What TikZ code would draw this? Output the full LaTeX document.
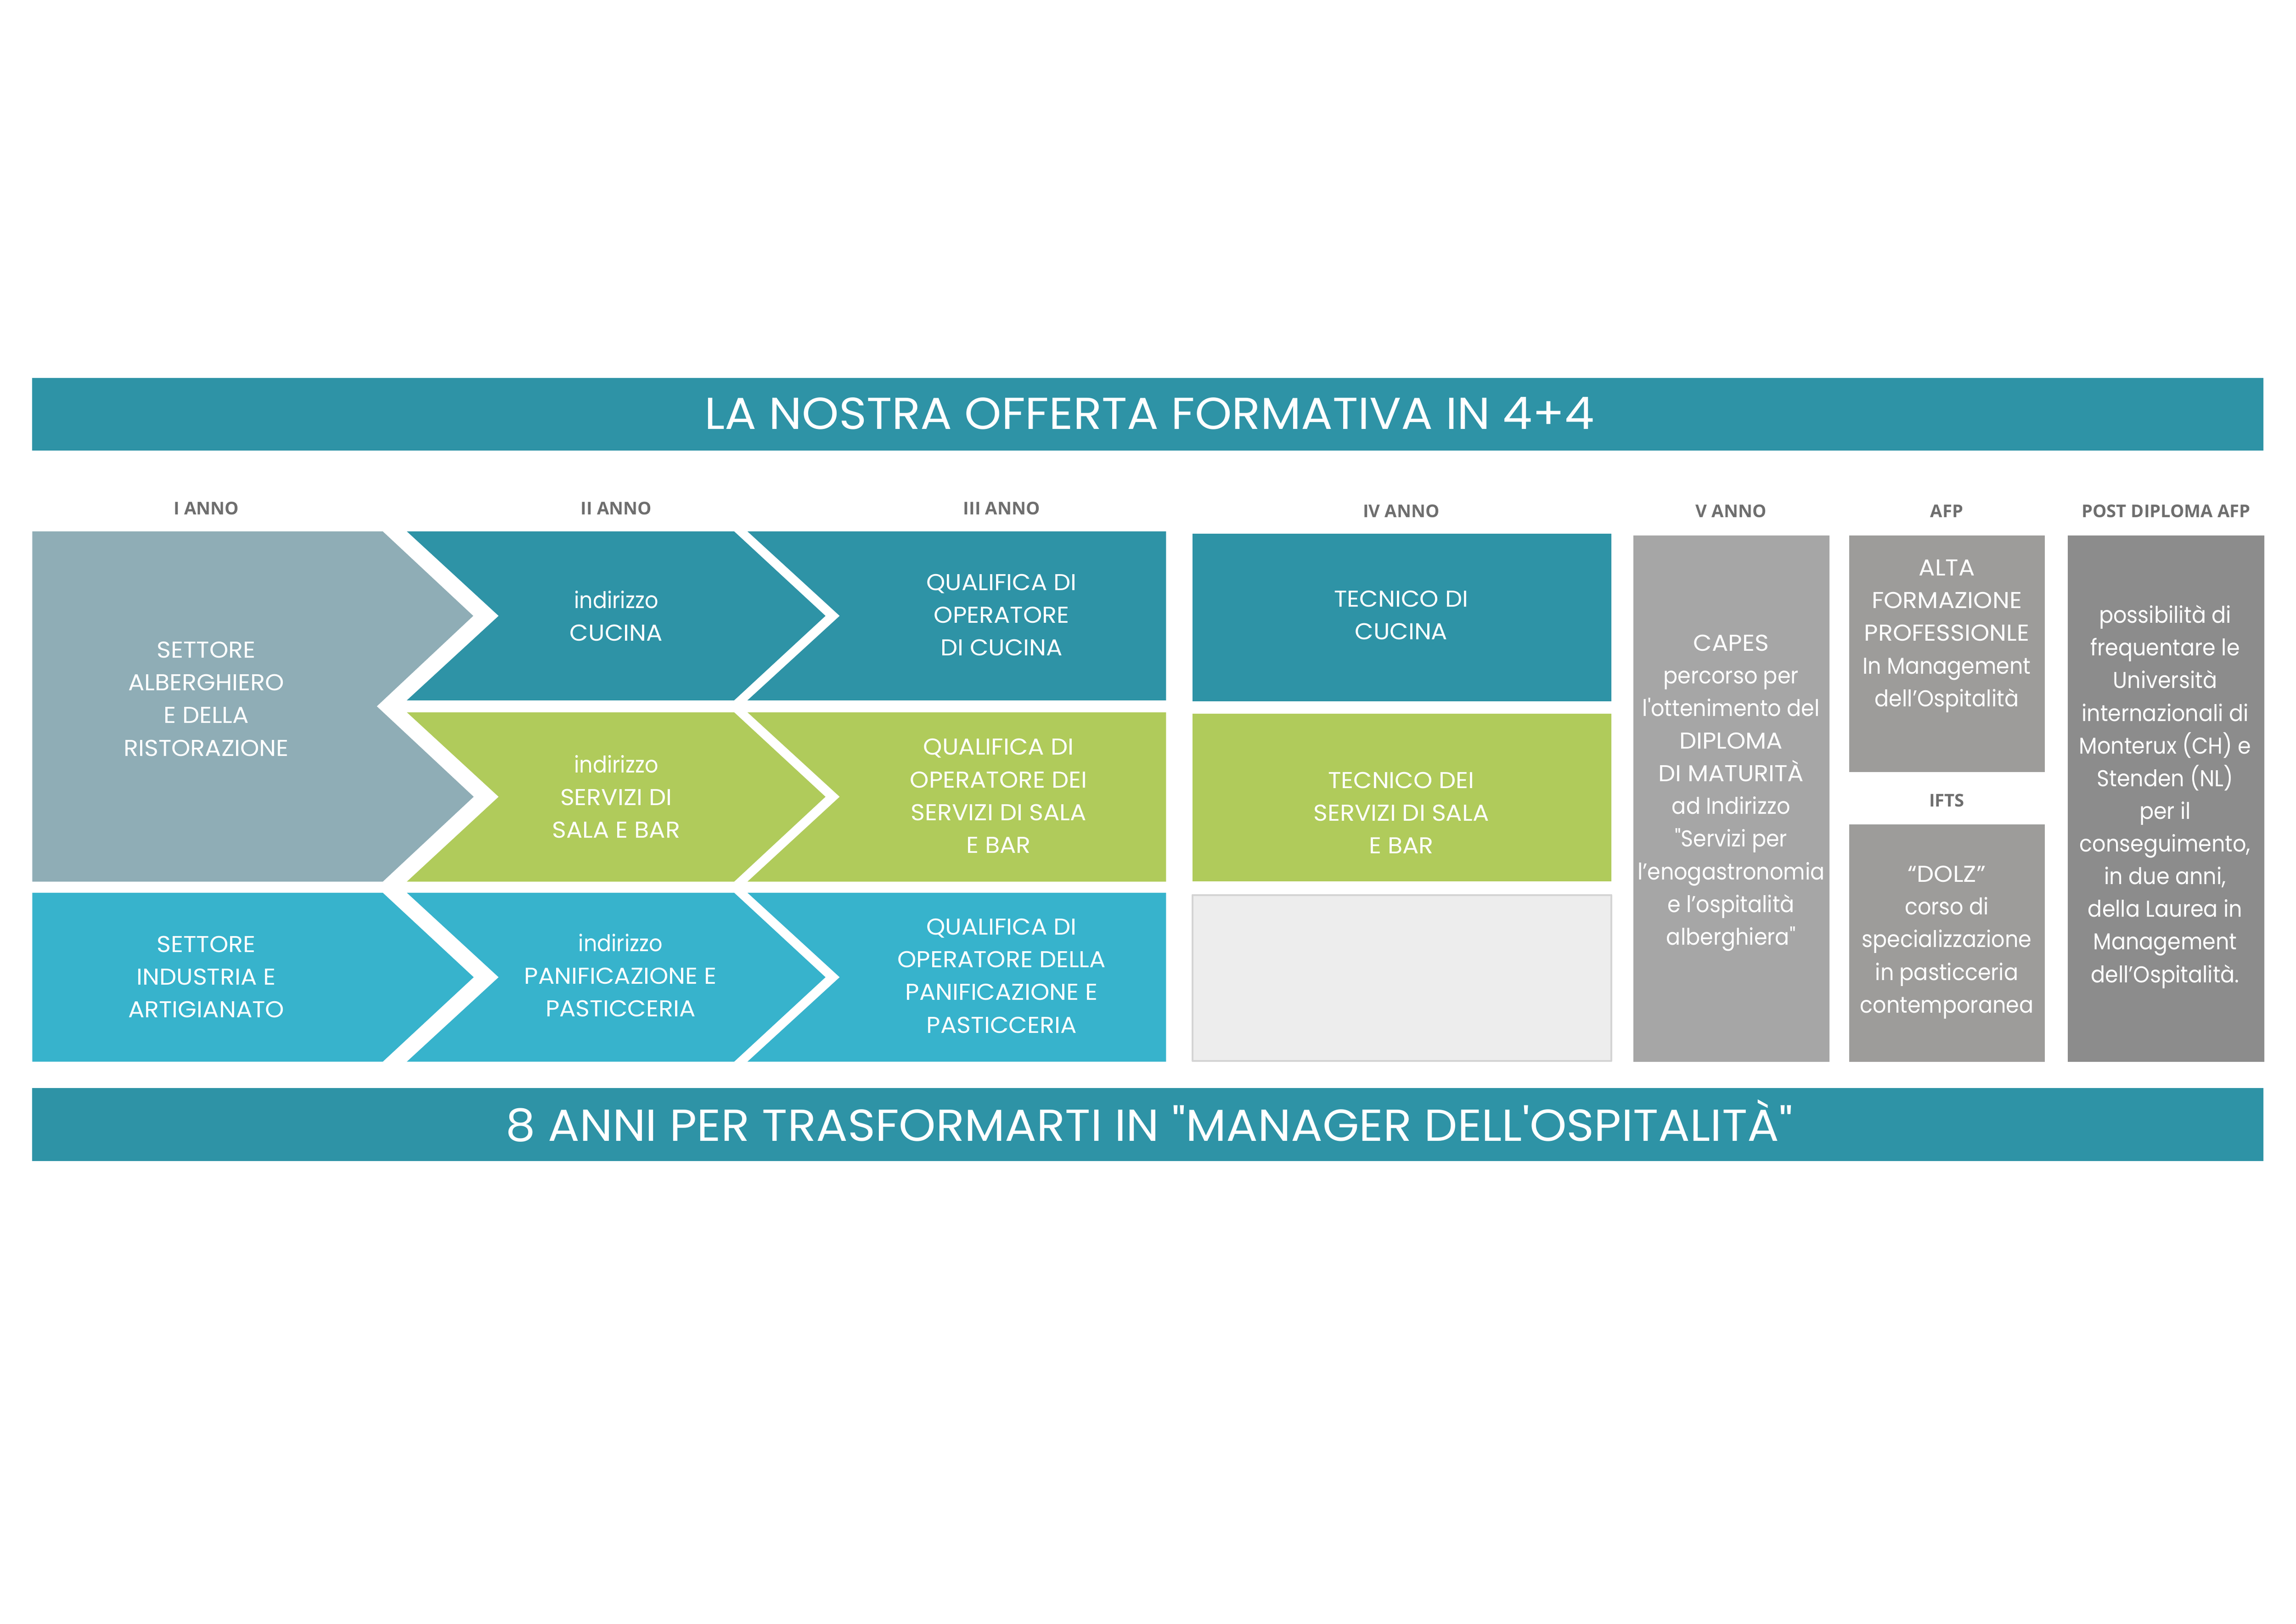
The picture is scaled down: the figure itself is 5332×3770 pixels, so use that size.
\documentclass[tikz,border=0pt]{standalone}
\usepackage{fontspec}
\setmainfont{Poppins}[FakeStretch=0.92,Ligatures=TeXOff]
\newfontfamily\capsfont{Poppins}[FakeStretch=1.05,Ligatures=TeXOff]
\newfontfamily\headfont{Open Sans}
\newcommand\cp[1]{{\capsfont#1}}
\definecolor{tealA}{HTML}{2E93A6}
\definecolor{grayblue}{HTML}{8FADB6}
\definecolor{greenA}{HTML}{B0CB5B}
\definecolor{blueA}{HTML}{37B3CC}
\definecolor{emptybox}{HTML}{EDEDED}
\definecolor{emptyline}{HTML}{D4D4D4}
\definecolor{grayV}{HTML}{A6A6A6}
\definecolor{grayAFP}{HTML}{9D9C9A}
\definecolor{grayPost}{HTML}{8C8C8C}
\definecolor{headgray}{HTML}{6E6E6E}
\begin{document}
\begin{tikzpicture}[x=0.005cm,y=-0.005cm, line join=round,
	txt/.style={text=white,align=center,font=\fontsize{7.6}{10.8}\selectfont},
	captxt/.style={txt,font=\capsfont\fontsize{7.6}{10.8}\selectfont},
	hd/.style={text=headgray,font=\headfont\bfseries\fontsize{5.8}{7}\selectfont},
	ttl/.style={text=white,font=\capsfont\fontsize{14.8}{17}\selectfont}]
	\useasboundingbox[fill=white] (0,0) rectangle (5332,3770);
	% banners
	\fill[tealA] (75,878) rectangle (5256,1046);
	\fill[tealA] (75,2526) rectangle (5256,2696);
	\node[ttl] (titolo) at (2669,960) {LA NOSTRA OFFERTA FORMATIVA IN 4+4};
	\node[ttl] (motto) at (2669,2602) {8 ANNI PER TRASFORMARTI IN "MANAGER DELL'OSPITALITÀ"};
	% headers
	\path
	(479,1180) node[hd] (h1) {I ANNO}
	(1431,1180) node[hd] (h2) {II ANNO}
	(2326,1180) node[hd] (h3) {III ANNO}
	(3254,1187) node[hd] (h4) {IV ANNO}
	(4020,1187) node[hd] (h5) {V ANNO}
	(4521,1187) node[hd] (hafp) {AFP}
	(5030,1187) node[hd] (hpost) {POST DIPLOMA AFP}
	(4521,1859) node[hd] (hifts) {IFTS}
	;
	% I anno
	\fill[grayblue] (75,1234)--(889,1234)--(1099,1430)--(875,1640)--(1100,1850)--(889,2047)--(75,2047)--cycle;
	\fill[blueA] (75,2073)--(889,2073)--(1100,2269)--(889,2465)--(75,2465)--cycle;
	% II e III anno
	\foreach \t/\m/\b/\c in {1234/1430/1626/tealA,1654/1850/2047/greenA,2073/2269/2465/blueA}{
		\fill[\c] (945,\t)--(1705,\t)--(1917,\m)--(1705,\b)--(945,\b)--(1158,\m)--cycle;
		\fill[\c] (1736,\t)--(2708,\t)--(2708,\b)--(1736,\b)--(1950,\m)--cycle;
	}
	% IV anno
	\fill[tealA] (2769,1239) rectangle (3742,1628);
	\fill[greenA] (2769,1657) rectangle (3742,2046);
	\draw[emptyline,fill=emptybox,line width=0.6pt] (2769,2078) rectangle (3742,2463);
	% V anno, AFP, IFTS, post diploma
	\fill[grayV] (3793,1243) rectangle (4248,2466);
	\fill[grayAFP] (4294,1243) rectangle (4749,1793);
	\fill[grayAFP] (4294,1914) rectangle (4749,2466);
	\fill[grayPost] (4802,1243) rectangle (5258,2466);
	% testi
	\path
	(479,1623) node[captxt] (alb) {SETTORE\\ALBERGHIERO\\E DELLA\\RISTORAZIONE}
	(479,2268) node[captxt] (ind) {SETTORE\\INDUSTRIA E\\ARTIGIANATO}
	(1431,1430) node[captxt] (cuc2) {{\rmfamily indirizzo}\\CUCINA}
	(1431,1850) node[captxt] (sal2) {{\rmfamily indirizzo}\\SERVIZI DI\\SALA E BAR}
	(1441,2265) node[captxt] (pan2) {{\rmfamily indirizzo}\\PANIFICAZIONE E\\PASTICCERIA}
	(2326,1428) node[captxt] (cuc3) {QUALIFICA DI\\OPERATORE\\DI CUCINA}
	(2319,1848) node[captxt] (sal3) {QUALIFICA DI\\OPERATORE DEI\\SERVIZI DI SALA\\E BAR}
	(2326,2266) node[captxt] (pan3) {QUALIFICA DI\\OPERATORE DELLA\\PANIFICAZIONE E\\PASTICCERIA}
	(3254,1428) node[captxt] (cuc4) {TECNICO DI\\CUCINA}
	(3254,1887) node[captxt] (sal4) {TECNICO DEI\\SERVIZI DI SALA\\E BAR}
	(4020,1841) node[txt] (capes) {\cp{CAPES}\\percorso per\\l'ottenimento del\\\cp{DIPLOMA}\\\cp{DI MATURITÀ}\\ad Indirizzo\\"Servizi per\\l’enogastronomia\\e l’ospitalità\\alberghiera"}
	(4521,1477) node[txt] (afp) {\cp{ALTA}\\\cp{FORMAZIONE}\\\cp{PROFESSIONLE}\\In Management\\dell’Ospitalità}
	(4521,2188) node[txt] (dolz) {\cp{“DOLZ”}\\corso di\\specializzazione\\in pasticceria\\contemporanea}
	(5028,1850) node[txt] (post) {possibilità di\\frequentare le\\Università\\internazionali di\\Monterux (CH) e\\Stenden (NL)\\per il\\conseguimento,\\in due anni,\\della Laurea in\\Management\\dell’Ospitalità.}
	;
\end{tikzpicture}
\end{document}
